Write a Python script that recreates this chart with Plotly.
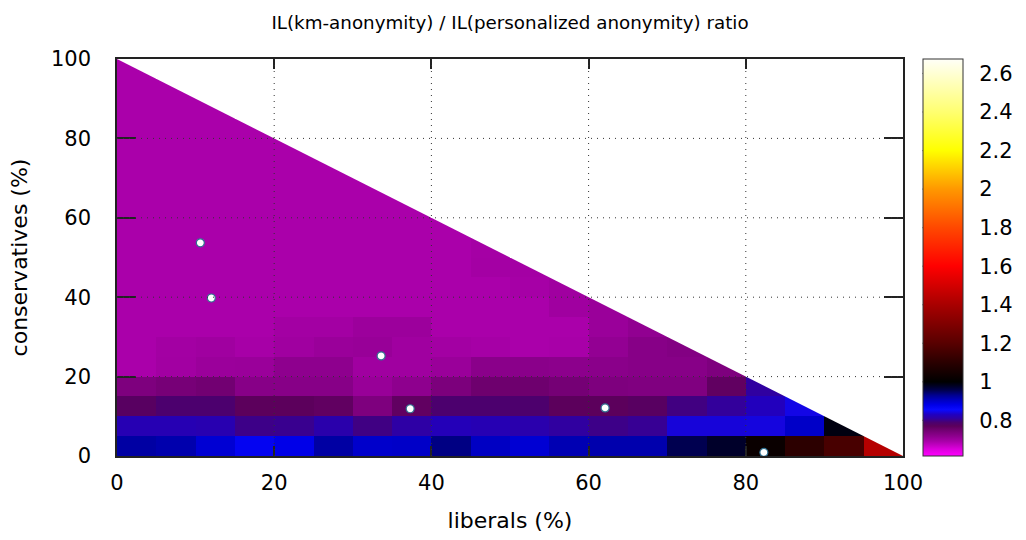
import plotly.graph_objects as go

# Bucket centres (percent of liberals / conservatives), 5% wide buckets
liberals_bins = [2.5, 7.5, 12.5, 17.5, 22.5, 27.5, 32.5, 37.5, 42.5, 47.5,
                 52.5, 57.5, 62.5, 67.5, 72.5, 77.5, 82.5, 87.5, 92.5, 97.5]
conservatives_bins = [2.5, 7.5, 12.5, 17.5, 22.5, 27.5, 32.5, 37.5, 42.5, 47.5,
                      52.5, 57.5, 62.5, 67.5, 72.5, 77.5, 82.5, 87.5, 92.5, 97.5]

# IL ratio per bucket, one list per conservatives bucket (bottom to top);
# a row only holds the buckets with liberals + conservatives < 100
ratio_c00 = [0.920, 0.915, 0.893, 0.870, 0.880, 0.920, 0.898, 0.900, 0.935, 0.903,
             0.893, 0.912, 0.915, 0.915, 0.955, 0.975, 1.025, 1.105, 1.165, 1.430]
ratio_c05 = [0.822, 0.822, 0.820, 0.800, 0.803, 0.817, 0.798, 0.813, 0.825, 0.822,
             0.818, 0.810, 0.800, 0.805, 0.840, 0.840, 0.842, 0.900, 0.990]
ratio_c10 = [0.775, 0.788, 0.788, 0.770, 0.770, 0.765, 0.735, 0.765, 0.788, 0.788,
             0.787, 0.770, 0.770, 0.775, 0.797, 0.808, 0.828, 0.845]
ratio_c15 = [0.735, 0.742, 0.748, 0.725, 0.725, 0.725, 0.708, 0.718, 0.737, 0.752,
             0.752, 0.745, 0.735, 0.733, 0.733, 0.765, 0.810]
ratio_c20 = [0.690, 0.698, 0.705, 0.706, 0.718, 0.718, 0.700, 0.700, 0.706, 0.722,
             0.722, 0.720, 0.722, 0.725, 0.725, 0.735]
ratio_c25 = [0.690, 0.697, 0.700, 0.693, 0.700, 0.706, 0.708, 0.700, 0.697, 0.694,
             0.690, 0.692, 0.713, 0.725, 0.730]
ratio_c30 = [0.690, 0.690, 0.690, 0.690, 0.697, 0.697, 0.704, 0.704, 0.690, 0.690,
             0.690, 0.690, 0.706, 0.715]
ratio_c35 = [0.690, 0.690, 0.690, 0.690, 0.690, 0.690, 0.690, 0.690, 0.690, 0.690,
             0.690, 0.700, 0.706]
ratio_c40 = [0.690, 0.690, 0.690, 0.690, 0.690, 0.690, 0.690, 0.690, 0.690, 0.690,
             0.694, 0.700]
ratio_c45 = [0.690, 0.690, 0.690, 0.690, 0.690, 0.690, 0.690, 0.690, 0.690, 0.696,
             0.696]
ratio_c50 = [0.690, 0.690, 0.690, 0.690, 0.690, 0.690, 0.690, 0.690, 0.690, 0.695]
ratio_c55 = [0.690, 0.690, 0.690, 0.690, 0.690, 0.690, 0.690, 0.690, 0.690]
ratio_c60 = [0.690, 0.690, 0.690, 0.690, 0.690, 0.690, 0.690, 0.690]
ratio_c65 = [0.690, 0.690, 0.690, 0.690, 0.690, 0.690, 0.690]
ratio_c70 = [0.690, 0.690, 0.690, 0.690, 0.690, 0.690]
ratio_c75 = [0.690, 0.690, 0.690, 0.690, 0.690]
ratio_c80 = [0.690, 0.690, 0.690, 0.690]
ratio_c85 = [0.690, 0.690, 0.690]
ratio_c90 = [0.690, 0.690]
ratio_c95 = [0.690]

# Sampled data sets (liberals %, conservatives %)
sample_liberals = [10.6, 12.0, 33.6, 37.3, 62.1, 82.3]
sample_conservatives = [53.7, 39.8, 25.2, 11.9, 12.1, 0.9]

axis_ticks = [0, 20, 40, 60, 80, 100]
cb_ticks = [0.8, 1.0, 1.2, 1.4, 1.6, 1.8, 2.0, 2.2, 2.4, 2.6]
cb_ticktext = ["0.8", "1", "1.2", "1.4", "1.6", "1.8", "2", "2.2", "2.4", "2.6"]

TOTAL = 100          # liberals + conservatives can not exceed 100%
CB_MIN, CB_MAX = 0.615, 2.675

# palette: magenta -> purple -> blue -> black -> red -> orange -> yellow -> white
palette = [
    (0.615, "#ff00ff"), (0.650, "#dd00dd"), (0.690, "#aa00aa"), (0.720, "#8c008c"),
    (0.750, "#700070"), (0.770, "#5c005c"), (0.790, "#4a0070"), (0.810, "#3000a0"),
    (0.830, "#2000c0"), (0.855, "#0a0aff"), (0.880, "#0000e8"), (0.905, "#0000c0"),
    (0.930, "#000090"), (0.955, "#000050"), (0.980, "#000020"), (1.000, "#000000"),
    (1.100, "#2a0000"), (1.200, "#580000"), (1.300, "#800000"), (1.400, "#a80000"),
    (1.600, "#ff0000"), (1.800, "#ff4800"), (2.000, "#ff9800"), (2.200, "#ffff00"),
    (2.400, "#ffff70"), (2.675, "#fffff8"),
]
colorscale = [[(v - CB_MIN) / (CB_MAX - CB_MIN), c] for v, c in palette]

rows = [ratio_c00, ratio_c05, ratio_c10, ratio_c15, ratio_c20, ratio_c25, ratio_c30,
        ratio_c35, ratio_c40, ratio_c45, ratio_c50, ratio_c55, ratio_c60, ratio_c65,
        ratio_c70, ratio_c75, ratio_c80, ratio_c85, ratio_c90, ratio_c95]
z = [row + [None] * (len(liberals_bins) - len(row)) for row in rows]

FONT = "DejaVu Sans"
CB_X0 = 1.025          # colour box left edge, paper units
CB_THICK = 40          # colour box width, px
PLOT_W = 1026 - 117 - 123
CB_X1 = CB_X0 + CB_THICK / PLOT_W
CB_TICK = 9 / PLOT_W

fig = go.Figure()

fig.add_trace(go.Heatmap(
    x=liberals_bins, y=conservatives_bins, z=z,
    colorscale=colorscale, zmin=CB_MIN, zmax=CB_MAX,
    hoverongaps=False,
    colorbar=dict(
        thickness=CB_THICK, len=1.0, lenmode="fraction",
        x=CB_X0, xanchor="left", xpad=0, y=0.5, yanchor="middle", ypad=0,
        outlinecolor="#333333", outlinewidth=1,
        tickvals=cb_ticks, ticktext=cb_ticktext,
        ticks="outside", ticklen=12, tickcolor="rgba(0,0,0,0)",
        tickfont=dict(family=FONT, size=21, color="#000000"),
    ),
))

# blank out the infeasible half (liberals + conservatives > 100)
fig.add_trace(go.Scatter(
    x=[0, TOTAL, TOTAL, 0], y=[TOTAL, 0, TOTAL, TOTAL],
    mode="lines", fill="toself", fillcolor="#ffffff",
    line=dict(width=0, color="#ffffff"), hoverinfo="skip", showlegend=False,
))

fig.add_trace(go.Scatter(
    x=sample_liberals, y=sample_conservatives, mode="markers",
    marker=dict(size=8, color="#ffffff", line=dict(width=1.2, color="#2f6f8f")),
    showlegend=False,
))

# dotted grid drawn over the cells
for t in axis_ticks[1:-1]:
    fig.add_shape(type="line", xref="x", yref="y", x0=t, x1=t, y0=0, y1=TOTAL,
                  layer="above", line=dict(color="#333333", width=1, dash="1px,5px"))
    fig.add_shape(type="line", xref="x", yref="y", x0=0, x1=TOTAL, y0=t, y1=t,
                  layer="above", line=dict(color="#333333", width=1, dash="1px,5px"))

# short tick marks on both inner edges of the colour box
for v in cb_ticks:
    yp = (v - CB_MIN) / (CB_MAX - CB_MIN)
    fig.add_shape(type="line", xref="paper", yref="paper", x0=CB_X0, x1=CB_X0 + CB_TICK,
                  y0=yp, y1=yp, layer="above", line=dict(color="#222222", width=1.2))
    fig.add_shape(type="line", xref="paper", yref="paper", x0=CB_X1 - CB_TICK, x1=CB_X1,
                  y0=yp, y1=yp, layer="above", line=dict(color="#222222", width=1.2))

axis_common = dict(
    showgrid=False, zeroline=False, showline=True, mirror="allticks",
    linecolor="#222222", linewidth=1.5, ticks="inside", tickcolor="#222222",
    tickwidth=1.5, tickvals=axis_ticks, layer="above traces",
    tickfont=dict(family=FONT, size=21, color="#000000"),
)

fig.update_layout(
    width=1026, height=540,
    margin=dict(l=117, r=123, t=59, b=84, autoexpand=False),
    paper_bgcolor="#ffffff", plot_bgcolor="#ffffff",
    font=dict(family=FONT, color="#000000"),
    title=dict(text="IL(km-anonymity) / IL(personalized anonymity) ratio",
               x=0.5, xref="paper", xanchor="center",
               y=1 - 23 / 540, yref="container", yanchor="middle",
               font=dict(family=FONT, size=18.3, color="#000000")),
    xaxis=dict(axis_common, range=[0, TOTAL], ticklen=10, ticklabelstandoff=7,
               title=dict(text="liberals (%)", standoff=19,
                          font=dict(family=FONT, size=22, color="#000000"))),
    yaxis=dict(axis_common, range=[0, TOTAL], ticklen=19, ticklabelstandoff=20,
               title=dict(text="conservatives (%)", standoff=17,
                          font=dict(family=FONT, size=22, color="#000000"))),
)

fig.write_html("out.html")
